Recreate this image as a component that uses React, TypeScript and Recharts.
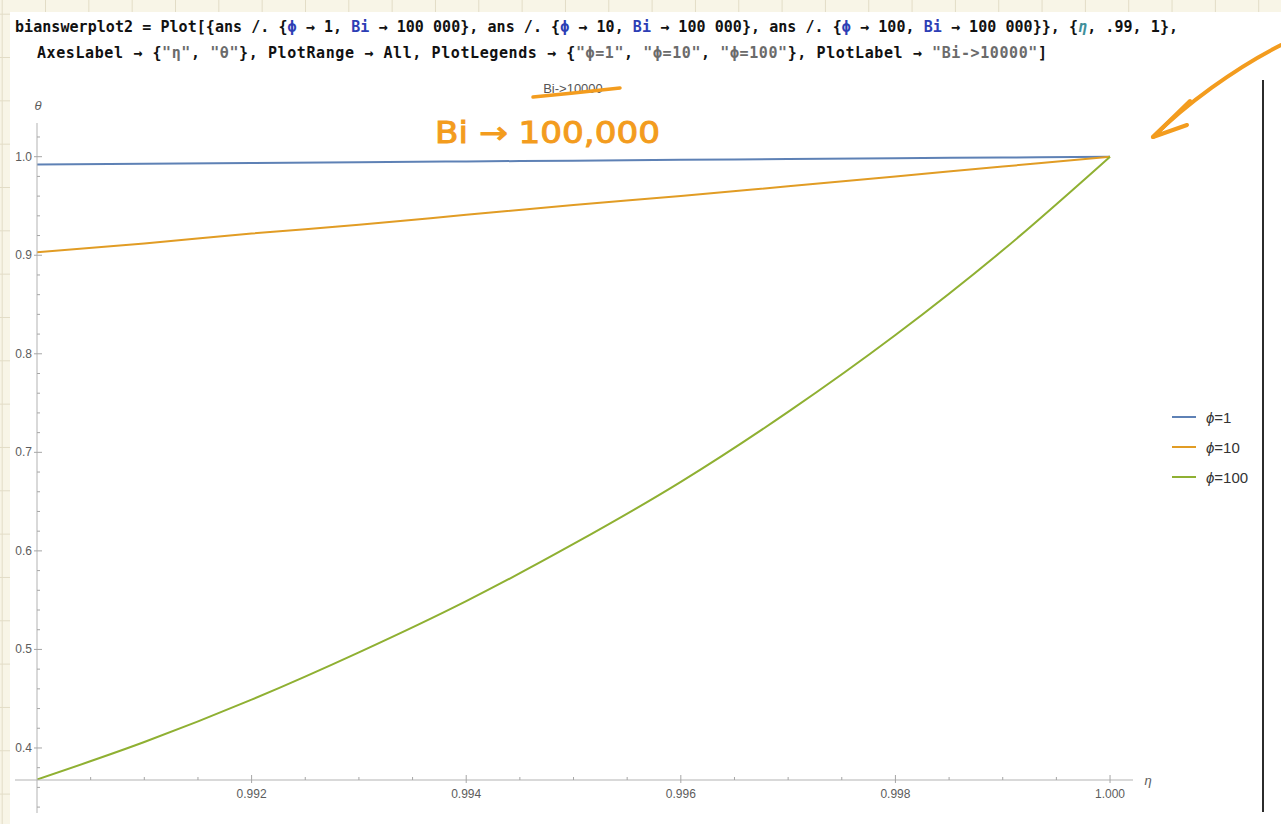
import React from "react";
import { LineChart, Line, XAxis, YAxis } from "recharts";

// values (eta on x, theta on y)
const eta = [0.99, 0.991, 0.992, 0.993, 0.994, 0.995, 0.996, 0.997, 0.998, 0.999, 1.0];
const thetaPhi1 = [0.992, 0.9928, 0.9936, 0.9944, 0.9952, 0.996, 0.9968, 0.9976, 0.9984, 0.9992, 1.0];
const thetaPhi10 = [0.903, 0.912, 0.922, 0.931, 0.941, 0.951, 0.96, 0.97, 0.98, 0.99, 1.0];
const thetaPhi100 = [0.368, 0.406, 0.449, 0.497, 0.549, 0.607, 0.67, 0.741, 0.819, 0.905, 1.0];

const seriesKeys = ["p1", "p10", "p100"];
const seriesNames = ["1", "10", "100"];
const seriesColors = ["#5e81b5", "#e19c24", "#8fb032"];

const xTickLabels = [0.992, 0.994, 0.996, 0.998, 1.0];
const yTickLabels = [0.4, 0.5, 0.6, 0.7, 0.8, 0.9, 1.0];

// minor ticks every 0.0005 / 0.02, like Mathematica draws them
const xTicks = Array.from({ length: 20 }, (_, i) => +(0.9905 + i * 0.0005).toFixed(4));
const yTicks = Array.from({ length: 33 }, (_, i) => +(0.38 + i * 0.02).toFixed(2));

const data = eta.map((e, i) => ({
  eta: e,
  p1: thetaPhi1[i],
  p10: thetaPhi10[i],
  p100: thetaPhi100[i],
}));

const AXIS = "#b3b3b3";
const TICK = "#a6a6a6";
const LABEL = "#5c5c5c";
const ORANGE = "#f39c1e";
const SANS = "'Liberation Sans', Arial, sans-serif";
const MONO = "'DejaVu Sans Mono', monospace";

const Y_MIN = 0.3675;
const Y_MAX = 1.0342;
const PLOT_TOP = 123;
const PLOT_BOTTOM = 780;
const AXIS_X = 37;
const yPix = (v: number) =>
  PLOT_TOP + ((Y_MAX - v) / (Y_MAX - Y_MIN)) * (PLOT_BOTTOM - PLOT_TOP);

function XTick(props: any) {
  const { x, y, payload } = props;
  const v = payload.value;
  const major = xTickLabels.some((t) => Math.abs(t - v) < 1e-7);
  return (
    <g>
      <line x1={x} x2={x} y1={y - (major ? 5 : 3)} y2={y + (major ? 3 : 0)} stroke={TICK} />
      {major && (
        <text x={x} y={y + 18} textAnchor="middle" fontSize={12} fill={LABEL} fontFamily={SANS}>
          {v.toFixed(3)}
        </text>
      )}
    </g>
  );
}

function YTick(props: any) {
  const { x, y, payload } = props;
  const v = payload.value;
  const major = yTickLabels.some((t) => Math.abs(t - v) < 1e-7);
  return (
    <g>
      <line x1={x - (major ? 3 : 0)} x2={x + (major ? 5 : 3)} y1={y} y2={y} stroke={TICK} />
      {major && (
        <text x={x - 5} y={y + 4} textAnchor="end" fontSize={12} fill={LABEL} fontFamily={SANS}>
          {v.toFixed(1)}
        </text>
      )}
    </g>
  );
}

function CodeHeader() {
  const blue = "#2d3eb5";
  const gray = "#6b6b6b";
  const teal = "#3f8f9b";
  return (
    <svg width={1281} height={70} style={{ position: "absolute", left: 0, top: 0 }}>
      <text x={15} y={32} fontFamily={MONO} fontWeight="bold" fontSize={15} fill="#111" textLength={1163} lengthAdjust="spacing">
        bianswerplot2 = Plot[{"{"}ans /. {"{"}
        <tspan fill={blue}>ϕ</tspan> → 1, <tspan fill={blue}>Bi</tspan> → 100 000{"}"}, ans /. {"{"}
        <tspan fill={blue}>ϕ</tspan> → 10, <tspan fill={blue}>Bi</tspan> → 100 000{"}"}, ans /. {"{"}
        <tspan fill={blue}>ϕ</tspan> → 100, <tspan fill={blue}>Bi</tspan> → 100 000{"}}"}, {"{"}
        <tspan fill={teal} fontStyle="italic">η</tspan>, .99, 1{"}"},
      </text>
      <text x={37} y={58} fontFamily={MONO} fontWeight="bold" fontSize={15} fill="#111" textLength={1010} lengthAdjust="spacing">
        AxesLabel → {"{"}
        <tspan fill={gray}>"η"</tspan>, <tspan fill={gray}>"θ"</tspan>
        {"}"}, PlotRange → All, PlotLegends → {"{"}
        <tspan fill={gray}>"ϕ=1"</tspan>, <tspan fill={gray}>"ϕ=10"</tspan>, <tspan fill={gray}>"ϕ=100"</tspan>
        {"}"}, PlotLabel → <tspan fill={gray}>"Bi-&gt;10000"</tspan>]
      </text>
    </svg>
  );
}

function Overlay() {
  return (
    <svg width={1281} height={824} style={{ position: "absolute", left: 0, top: 0, pointerEvents: "none" }}>
      {/* axis stubs outside the plotted range */}
      <line x1={15} x2={AXIS_X} y1={PLOT_BOTTOM} y2={PLOT_BOTTOM} stroke={AXIS} />
      <line x1={AXIS_X} x2={AXIS_X} y1={PLOT_BOTTOM} y2={813} stroke={AXIS} />
      {[0.36, 0.34].map((v) => (
        <line key={v} x1={AXIS_X} x2={AXIS_X + 3} y1={yPix(v)} y2={yPix(v)} stroke={TICK} />
      ))}

      <text x={38} y={110} textAnchor="middle" fontSize={13} fontStyle="italic" fill={LABEL} fontFamily={SANS}>θ</text>
      <text x={1148} y={785} textAnchor="middle" fontSize={13} fontStyle="italic" fill={LABEL} fontFamily={SANS}>η</text>
      <text x={573} y={93} textAnchor="middle" fontSize={13} fill="#555" fontFamily={SANS}>Bi-&gt;10000</text>

      {/* legend */}
      {seriesNames.map((n, i) => (
        <g key={n}>
          <line x1={1172} x2={1196} y1={417 + i * 30} y2={417 + i * 30} stroke={seriesColors[i]} strokeWidth={2} />
          <text x={1206} y={422.5 + i * 30} fontSize={15} fill="#333" fontFamily={SANS}>
            <tspan fontStyle="italic">ϕ</tspan>={n}
          </text>
        </g>
      ))}

      {/* hand annotations */}
      <path d="M 533 97 Q 575 93 620 88" stroke={ORANGE} strokeWidth={3.5} fill="none" strokeLinecap="round" />
      <text x={435} y={143} fontSize={30} fill={ORANGE} stroke={ORANGE} strokeWidth={1} fontFamily="'DejaVu Sans', sans-serif" textLength={225} lengthAdjust="spacingAndGlyphs">
        Bi → 100,000
      </text>
      <path d="M 1281 45 C 1235 68, 1185 105, 1153 137" stroke={ORANGE} strokeWidth={4} fill="none" strokeLinecap="round" />
      <path d="M 1190 101 L 1153 137 L 1187 125" stroke={ORANGE} strokeWidth={4} fill="none" strokeLinecap="round" strokeLinejoin="round" />

      <line x1={1263} x2={1263} y1={80} y2={812} stroke="#2b2b2b" strokeWidth={2} />
    </svg>
  );
}

export default function App() {
  return (
    <div
      style={{
        position: "absolute",
        left: 0,
        top: 0,
        width: 1281,
        height: 824,
        overflow: "hidden",
        backgroundColor: "#f8f5e7",
        backgroundImage:
          "linear-gradient(to right, #e2dcc6 1px, transparent 1px), linear-gradient(to bottom, #e2dcc6 1px, transparent 1px)",
        backgroundSize: "43.33px 43.33px",
        backgroundPosition: "1.7px 13.7px",
      }}
    >
      <div style={{ position: "absolute", left: 10, top: 12, right: 0, bottom: 0, background: "#fff" }} />
      <CodeHeader />
      <div style={{ position: "absolute", left: 0, top: 0 }}>
        <LineChart
          width={1281}
          height={824}
          data={data}
          margin={{ top: PLOT_TOP, right: 148, bottom: 14, left: 7 }}
        >
          <XAxis
            type="number"
            dataKey="eta"
            domain={[0.99, 1.000214]}
            allowDataOverflow
            ticks={xTicks}
            interval={0}
            tick={<XTick />}
            tickLine={false}
            tickSize={0}
            tickMargin={0}
            axisLine={{ stroke: AXIS }}
            height={30}
          />
          <YAxis
            type="number"
            domain={[Y_MIN, Y_MAX]}
            allowDataOverflow
            ticks={yTicks}
            interval={0}
            tick={<YTick />}
            tickLine={false}
            tickSize={0}
            tickMargin={0}
            axisLine={{ stroke: AXIS }}
            width={30}
          />
          {seriesKeys.map((k, i) => (
            <Line
              key={k}
              type="monotone"
              dataKey={k}
              name={"ϕ=" + seriesNames[i]}
              stroke={seriesColors[i]}
              strokeWidth={2}
              dot={false}
              isAnimationActive={false}
            />
          ))}
        </LineChart>
      </div>
      <Overlay />
    </div>
  );
}
